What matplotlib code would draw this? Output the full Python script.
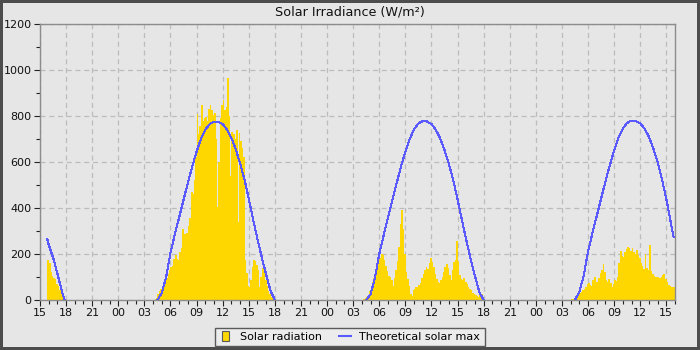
import matplotlib
matplotlib.use("Agg")
import matplotlib.pyplot as plt
import matplotlib.dates as mdates
from matplotlib.patches import Patch, Rectangle
from matplotlib.lines import Line2D
from matplotlib.legend_handler import HandlerPatch
import pandas as pd
import numpy as np

# ---------------- data ----------------
title = "Solar Irradiance (W/m²)"
series_labels = ["Solar radiation", "Theoretical solar max"]

# measured solar radiation, 10-minute samples (W/m²)
rad_day1_start = "2024-06-01 15:50"
rad_day1 = [175, 160, 120, 105, 95, 90, 70, 60, 45, 35, 20, 10, 5, 0]

rad_day2_start = "2024-06-02 04:10"
rad_day2 = [5, 10, 25, 40, 50, 62, 70, 88, 95, 115,
            132, 142, 150, 178, 195, 180, 172, 210, 228, 310,
            288, 285, 292, 320, 355, 470, 460, 520, 620, 810,
            720, 755, 848, 780, 790, 795, 780, 830, 848, 825,
            805, 815, 700, 405, 600, 790, 850, 870, 826, 840,
            964, 800, 540, 730, 720, 700, 740, 340, 725, 690,
            660, 623, 174, 116, 60, 58, 87, 145, 174, 170,
            152, 130, 58, 100, 140, 145, 85, 60, 40, 25,
            15, 8, 4, 0]

rad_day3_start = "2024-06-03 04:10"
rad_day3 = [5, 8, 15, 22, 38, 55, 80, 95, 120, 145,
            160, 182, 200, 196, 172, 150, 125, 105, 100, 85,
            62, 95, 130, 170, 230, 330, 393, 310, 200, 120,
            90, 60, 25, 18, 45, 50, 55, 58, 65, 75,
            95, 115, 132, 142, 135, 160, 182, 165, 145, 115,
            90, 80, 75, 88, 100, 120, 145, 155, 140, 110,
            88, 130, 165, 175, 255, 170, 110, 90, 88, 95,
            80, 70, 58, 50, 44, 32, 28, 22, 18, 15,
            22, 25, 8, 0]

rad_day4_start = "2024-06-04 04:00"
rad_day4 = [3, 5, 8, 15, 20, 25, 30, 36, 45, 50,
            58, 68, 72, 65, 62, 88, 100, 80, 78, 95,
            118, 130, 155, 120, 85, 80, 90, 75, 55, 70,
            85, 82, 100, 160, 215, 190, 185, 210, 220, 232,
            225, 215, 228, 210, 200, 218, 195, 182, 160, 150,
            135, 200, 140, 130, 240, 125, 115, 105, 100, 98,
            100, 95, 102, 108, 112, 90, 80, 65, 60, 58,
            58, 55]

# theoretical clear-sky maximum (W/m²)
curve_day1_times = ["2024-06-01 15:50", "2024-06-01 16:00", "2024-06-01 16:30",
                    "2024-06-01 17:00", "2024-06-01 17:30", "2024-06-01 17:50"]
curve_day1 = [265, 240, 185, 115, 40, 0]

curve_day2_start = "2024-06-02 04:30"   # 30-minute samples
curve_day2 = [0, 30, 100, 205, 285, 360, 435, 510, 580, 645,
              700, 740, 765, 775, 775, 765, 740, 705, 655, 595,
              525, 440, 350, 265, 185, 110, 40, 0]

curve_day3_start = "2024-06-03 04:30"
curve_day3 = [0, 25, 95, 200, 280, 358, 432, 508, 580, 645,
              700, 742, 768, 778, 776, 765, 740, 703, 652, 592,
              522, 438, 348, 262, 180, 105, 35, 0]

curve_day4_times = list(pd.date_range("2024-06-04 04:30", periods=23, freq="30min")) + \
    [pd.Timestamp("2024-06-04 15:50")]
curve_day4 = [0, 35, 105, 210, 290, 365, 440, 515, 585, 650,
              705, 745, 770, 780, 778, 768, 745, 710, 660, 600,
              525, 440, 340, 275]

x_start = "2024-06-01 15:00"
x_end = "2024-06-04 16:00"

# ---------------- figure ----------------
BG = "#e6e6e6"
YELLOW = "#ffd700"
BLUE = "#5a5aff"

fig = plt.figure(figsize=(7, 3.5), dpi=100)
fig.patch.set_facecolor(BG)
fig.patch.set_edgecolor("#4d4d4d")
fig.patch.set_linewidth(4)

ax = fig.add_axes([40 / 700, 50 / 350, 635 / 700, 276 / 350])
ax.set_facecolor(BG)

bar_w = 10 / 1440.0
for start, vals in [(rad_day1_start, rad_day1), (rad_day2_start, rad_day2),
                    (rad_day3_start, rad_day3), (rad_day4_start, rad_day4)]:
    t = pd.date_range(start, periods=len(vals), freq="10min")
    ax.bar(mdates.date2num(t.to_pydatetime()), vals, width=bar_w * 1.25, align="edge",
           color=YELLOW, linewidth=0, zorder=2)

curves = [(pd.to_datetime(curve_day1_times), curve_day1),
          (pd.date_range(curve_day2_start, periods=len(curve_day2), freq="30min"), curve_day2),
          (pd.date_range(curve_day3_start, periods=len(curve_day3), freq="30min"), curve_day3),
          (pd.to_datetime(curve_day4_times), curve_day4)]
for t, vals in curves:
    ax.plot(mdates.date2num(pd.DatetimeIndex(t).to_pydatetime()), vals,
            color=BLUE, linewidth=0.75, antialiased=False, zorder=3)

ax.set_xlim(mdates.date2num(pd.Timestamp(x_start).to_pydatetime()),
            mdates.date2num(pd.Timestamp(x_end).to_pydatetime()))
ax.set_ylim(0, 1200)

ax.xaxis.set_major_locator(mdates.HourLocator(byhour=range(0, 24, 3)))
ax.xaxis.set_minor_locator(mdates.HourLocator())
ax.xaxis.set_major_formatter(mdates.DateFormatter("%H"))
ax.set_yticks(np.arange(0, 1201, 200))
ax.set_yticks(np.arange(0, 1201, 100), minor=True)

ax.grid(True, which="major", color="#bcbcbc", linestyle=(0, (4, 3)), linewidth=0.9, zorder=0)
ax.set_axisbelow(True)

for s in ax.spines.values():
    s.set_color("#8c8c8c")
    s.set_linewidth(1.0)

ax.tick_params(axis="both", which="major", length=4, width=0.8, color="#222222",
               labelsize=8, labelcolor="#111111", pad=2)
ax.tick_params(axis="both", which="minor", length=3, width=0.8, color="#222222")

fig.text(0.5, 1 - 12 / 350, title, ha="center", va="center", fontsize=9.2, color="#111111")


def square_patch(legend, orig_handle, xdescent, ydescent, width, height, fontsize):
    w = height * 0.85
    h = height * 1.3
    return Rectangle((-xdescent + (width - w) / 2, -ydescent + (height - h) / 2), w, h)


handles = [Patch(facecolor=YELLOW, edgecolor="#5a5a5a", linewidth=0.8, label=series_labels[0]),
           Line2D([0], [0], color=BLUE, linewidth=1.5, label=series_labels[1])]
leg = fig.legend(handles=handles, loc="center", bbox_to_anchor=(0.5, 1 - 337 / 350), ncol=2,
                 fontsize=8, frameon=True, fancybox=False, framealpha=1, edgecolor="#5a5a5a",
                 facecolor="#ececec", handlelength=1.0, handletextpad=0.8, columnspacing=1.6,
                 borderpad=0.4,
                 handler_map={Patch: HandlerPatch(patch_func=square_patch)})
leg.get_frame().set_linewidth(1.0)

fig.savefig("out.png", dpi=100, facecolor=fig.get_facecolor(), edgecolor=fig.get_edgecolor())
